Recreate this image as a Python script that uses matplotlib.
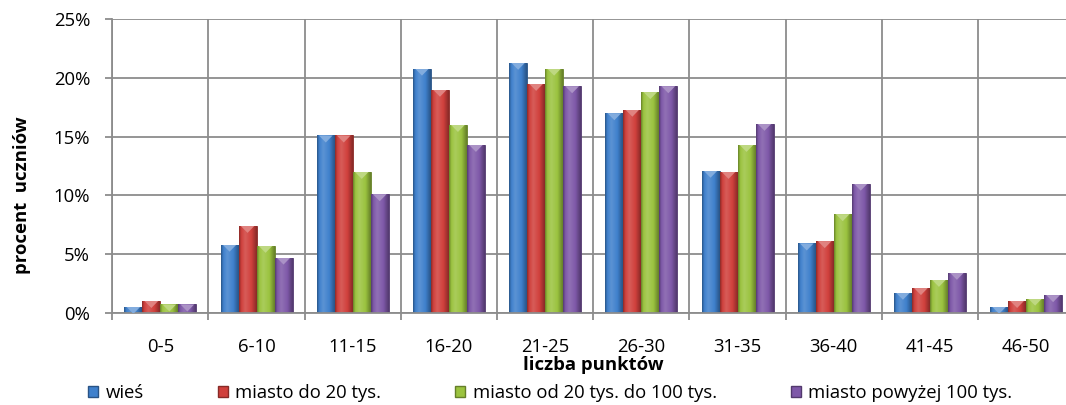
import numpy as np
import matplotlib.pyplot as plt
from matplotlib.colors import LinearSegmentedColormap, to_rgb
from matplotlib.patches import Polygon, Patch

plt.rcParams['font.family'] = ['Open Sans', 'DejaVu Sans']

categories = ['0-5', '6-10', '11-15', '16-20', '21-25', '26-30', '31-35', '36-40', '41-45', '46-50']
series_names = ['wieś', 'miasto do 20 tys.', 'miasto od 20 tys. do 100 tys.', 'miasto powyżej 100 tys.']

# percent of pupils in each score bracket
wies = [0.5, 5.8, 15.1, 20.8, 21.3, 17.0, 12.1, 5.9, 1.7, 0.5]
miasto_do_20 = [1.0, 7.4, 15.1, 19.0, 19.5, 17.3, 12.0, 6.1, 2.1, 1.0]
miasto_20_100 = [0.7, 5.7, 12.0, 16.0, 20.8, 18.8, 14.3, 8.4, 2.8, 1.2]
miasto_pow_100 = [0.7, 4.7, 10.1, 14.3, 19.3, 19.3, 16.1, 11.0, 3.4, 1.5]

series = [wies, miasto_do_20, miasto_20_100, miasto_pow_100]
colors = ['#3f80cc', '#d0403c', '#9bc33f', '#7e58a8']
grid_col = '#8c8c8c'
fs = 13.3


def mix(c, other, f):
    c = np.array(to_rgb(c))
    return tuple(c + (np.array(other) - c) * f)


fig = plt.figure(figsize=(10.66, 4.05), dpi=100)
ax = fig.add_axes([0.1053, 0.2279, 0.9024, 0.7244])

x = np.arange(len(categories))
w = 0.187
grad = np.linspace(0, 1, 64).reshape(1, -1)

for i, (vals, col) in enumerate(zip(series, colors)):
    dark = mix(col, (0, 0, 0), 0.35)
    light = mix(col, (1, 1, 1), 0.15)
    cmap = LinearSegmentedColormap.from_list(
        'bevel%d' % i, [(0, dark), (0.12, col), (0.35, light), (0.7, col), (1, dark)])
    bars = ax.bar(x + (i - 1.5) * w, vals, w, color=col, edgecolor=dark,
                  linewidth=0.6, zorder=2)
    for b in bars:
        x0, bw, h = b.get_x(), b.get_width(), b.get_height()
        im = ax.imshow(grad, cmap=cmap, extent=[x0, x0 + bw, 0, h], aspect='auto',
                       interpolation='bicubic', zorder=2.5)
        im.set_clip_path(b)
        tri = Polygon([[x0 + 0.12 * bw, h], [x0 + 0.88 * bw, h], [x0 + 0.5 * bw, h - 0.6]],
                      closed=True, facecolor=mix(col, (1, 1, 1), 0.35), edgecolor='none', zorder=3)
        ax.add_patch(tri)
        tri.set_clip_path(b)

ax.set_xlim(-0.5, len(categories) - 0.5)
ax.set_ylim(0, 25)
ax.set_yticks(range(0, 26, 5))
ax.yaxis.set_major_formatter(lambda v, p: '%d%%' % v)
ax.set_xticks(x, categories)
ax.set_xticks(np.arange(-0.5, len(categories), 1), minor=True)

ax.set_axisbelow(True)
ax.grid(axis='y', which='major', color=grid_col, linewidth=1.3)
ax.grid(axis='x', which='minor', color=grid_col, linewidth=1.3)
for s in ['top', 'right']:
    ax.spines[s].set_visible(False)
for s in ['left', 'bottom']:
    ax.spines[s].set_color(grid_col)
    ax.spines[s].set_linewidth(1.3)

ax.tick_params(axis='x', which='major', length=0, pad=18, labelsize=fs, labelcolor='black')
ax.tick_params(axis='x', which='minor', length=5, width=1.3, color=grid_col)
ax.tick_params(axis='y', length=5, width=1.3, color=grid_col, pad=11, labelsize=fs)

ax.set_xlabel('liczba punktów', fontsize=fs, fontweight='bold', labelpad=0)
fig.text(0.021, 1 - 195 / 405, 'procent  uczniów', rotation=90, ha='center', va='center',
         fontsize=fs, fontweight='bold')

handles = [Patch(facecolor=c, edgecolor=mix(c, (0, 0, 0), 0.35)) for c in colors]
fig.legend(handles, series_names, loc='center left', bbox_to_anchor=(88 / 1066, 1 - 393 / 405),
           ncol=4, frameon=False, fontsize=fs, handlelength=0.55, handleheight=0.55,
           handletextpad=0.4, columnspacing=4.0, borderpad=0, borderaxespad=0)

fig.savefig('out.png', dpi=100)
